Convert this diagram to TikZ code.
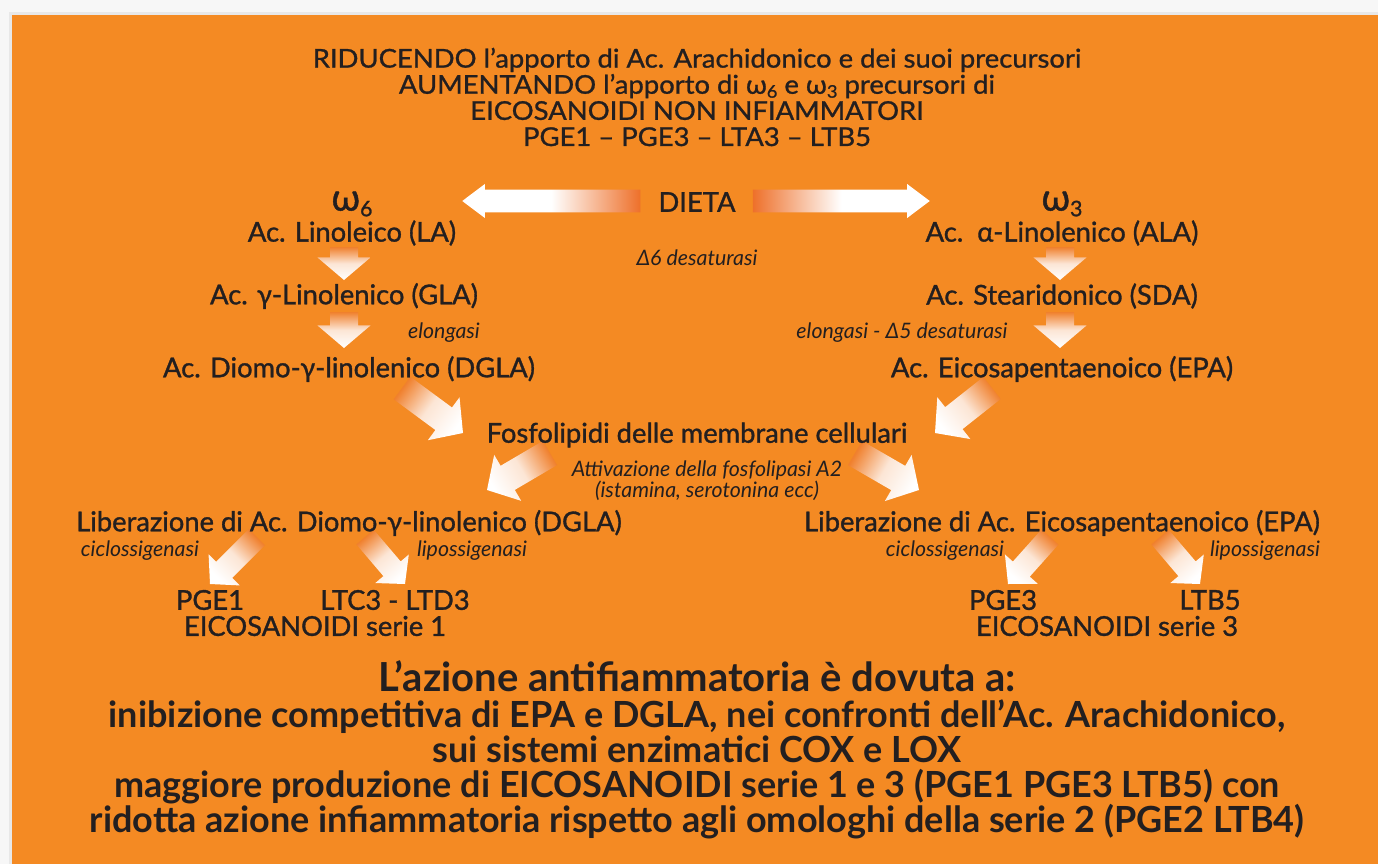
\documentclass[tikz,border=0pt]{standalone}
\usepackage{fontspec}
\setmainfont{Lato}
\newfontfamily\medfont{Lato}[FakeBold=1.2,Ligatures=TeX]
\newfontfamily\headfont{Lato}[FakeBold=1,FakeStretch=1.06,Ligatures=TeX]
\usetikzlibrary{calc,positioning}

\pgfdeclarelayer{bg}
\pgfdeclarelayer{arrows}
\pgfsetlayers{bg,arrows,main}

\definecolor{bgorange}{RGB}{244,138,35}
\definecolor{arrtop}{RGB}{240,128,45}
\definecolor{arrred}{RGB}{238,112,42}
\definecolor{ink}{RGB}{35,31,32}

\tikzset{
  txt/.style={font=\medfont\fontsize{20.5}{22}\selectfont, text=ink, inner sep=0pt},
  omega/.style={font=\medfont\fontsize{28}{28}\selectfont, text=ink, inner sep=0pt},
  note/.style={font=\itshape\fontsize{16}{15.5}\selectfont, text=ink, inner sep=0pt, align=center},
  head/.style={font=\headfont\fontsize{19.4}{19.6}\selectfont, text=ink, inner sep=0pt, align=center},
  concl/.style={font=\bfseries\fontsize{30}{30}\selectfont, text=ink, inner sep=0pt},
  conclines/.style={font=\bfseries\fontsize{27}{26.25}\selectfont, text=ink, inner sep=0pt, align=center},
  arrowfill/.style={top color=arrtop, bottom color=white, middle color=white!80!arrtop},
  dietafill/.style={top color=arrred, bottom color=white, middle color=white},
}

% fat shaded arrow: [fill] {tail}{tip}{shaft half}{head half}{head length}
\newcommand{\fatarrow}[6][arrowfill]{%
  \path (#2) coordinate (fa-t) (#3) coordinate (fa-h);
  \pgfmathanglebetweenpoints{\pgfpointanchor{fa-t}{center}}{\pgfpointanchor{fa-h}{center}}%
  \pgfmathsetmacro\faang{\pgfmathresult+90}%
  \path ($(fa-h)!#6!(fa-t)$) coordinate (fa-b);
  \shade[#1, shading angle=\faang]
    ($(fa-t)!#4!90:(fa-h)$) -- ($(fa-b)!#4!90:(fa-h)$) -- ($(fa-b)!#5!90:(fa-h)$) -- (fa-h)
    -- ($(fa-b)!#5!-90:(fa-h)$) -- ($(fa-b)!#4!-90:(fa-h)$) -- ($(fa-t)!#4!-90:(fa-h)$) -- cycle;
}

\begin{document}
\begin{tikzpicture}[x=0.75pt, y=-0.75pt]
  \useasboundingbox (0,0) rectangle (1378,864);
  \begin{pgfonlayer}{bg}
    \fill[gray!6] (0,0) rectangle (1378,864);
    \fill[gray!18] (9,12) rectangle (1378,864);
    \fill[bgorange] (12,15) rectangle (1378,864);
  \end{pgfonlayer}

  % header
  \node[head] (head) at (697,97) {RIDUCENDO l’apporto di Ac. Arachidonico e dei suoi precursori\\
    AUMENTANDO l’apporto di ω\raisebox{-0.3ex}{\fontsize{13}{13}\selectfont 6} e ω\raisebox{-0.3ex}{\fontsize{13}{13}\selectfont 3} precursori di\\
    EICOSANOIDI NON INFIAMMATORI\\
    PGE1 – PGE3 – LTA3 – LTB5};

  \node[txt] (dieta) at (697,202) {DIETA};
  \node[note] (d6) at (697,258) {Δ6 desaturasi};

  % omega 6 column
  \node[omega] (om6) at (352,204) {ω\raisebox{-0.3ex}{\fontsize{16}{16}\selectfont 6}};
  \node[txt] (la) at (352,233) {Ac. Linoleico (LA)};
  \node[txt] (gla) at (344,296) {Ac. γ-Linolenico (GLA)};
  \node[note] (elo) at (444,333) {elongasi};
  \node[txt] (dgla) at (349,369) {Ac. Diomo-γ-linolenico (DGLA)};

  % omega 3 column
  \node[omega] (om3) at (1062,204) {ω\raisebox{-0.3ex}{\fontsize{16}{16}\selectfont 3}};
  \node[txt] (ala) at (1062,233) {Ac.\ \ α-Linolenico (ALA)};
  \node[txt] (sda) at (1062,296) {Ac. Stearidonico (SDA)};
  \node[note] (elo5) at (902,333) {elongasi - Δ5 desaturasi};
  \node[txt] (epa) at (1062,369) {Ac. Eicosapentaenoico (EPA)};

  \node[txt] (fosfo) at (697,435) {Fosfolipidi delle membrane cellulari};
  \node[note] (pla2) at (707,481) {Attivazione della fosfolipasi A2\\(istamina, serotonina ecc)};

  % release, left
  \node[txt] (libd) at (349,523) {Liberazione di Ac. Diomo-γ-linolenico (DGLA)};
  \node[note] (cox1) at (140,551) {ciclossigenasi};
  \node[note] (lox1) at (472,551) {lipossigenasi};
  \node[txt] (pge1) at (210,600) {PGE1};
  \node[txt] (ltc3) at (395,600) {LTC3 - LTD3};
  \node[txt] (ser1) at (315,626) {EICOSANOIDI serie 1};

  % release, right
  \node[txt] (libe) at (1062,523) {Liberazione di Ac. Eicosapentaenoico (EPA)};
  \node[note] (cox3) at (945,551) {ciclossigenasi};
  \node[note] (lox3) at (1265,551) {lipossigenasi};
  \node[txt] (pge3) at (1003,600) {PGE3};
  \node[txt] (ltb5) at (1210,600) {LTB5};
  \node[txt] (ser3) at (1107,626) {EICOSANOIDI serie 3};

  % conclusion
  \node[concl] (azione) at (697,676) {L’azione antifiammatoria è dovuta a:};
  \node[conclines] (motivi) at (697,769) {inibizione competitiva di EPA e DGLA, nei confronti dell’Ac. Arachidonico,\\
    sui sistemi enzimatici COX e LOX\\
    maggiore produzione di EICOSANOIDI serie 1 e 3 (PGE1 PGE3 LTB5) con\\
    ridotta azione infiammatoria rispetto agli omologhi della serie 2 (PGE2 LTB4)};

  % arrows, under the text
  \begin{pgfonlayer}{arrows}
  \fatarrow[dietafill]{$(dieta.west)+(-18,-1)$}{$(dieta.west)+(-196,-1)$}{8.6pt}{12.8pt}{17pt}
  \fatarrow[dietafill]{$(dieta.east)+(17,-1)$}{$(dieta.east)+(194,-1)$}{8.6pt}{12.8pt}{17pt}

  \fatarrow{$(gla)+(0,-49)$}{$(gla)+(0,-16)$}{10.5pt}{20pt}{17pt}
  \fatarrow{$(gla)+(0,16)$}{$(gla)+(0,52)$}{10.5pt}{20pt}{17pt}
  \fatarrow{$(sda)+(-2,-49)$}{$(sda)+(-2,-16)$}{10.5pt}{20pt}{17pt}
  \fatarrow{$(sda)+(-2,16)$}{$(sda)+(-2,52)$}{10.5pt}{20pt}{17pt}

  \fatarrow{$(fosfo)+(-295,-47)$}{$(fosfo)+(-234,-2)$}{10.5pt}{20pt}{18pt}
  \fatarrow{$(fosfo)+(295,-47)$}{$(fosfo)+(238,-2)$}{10.5pt}{20pt}{18pt}
  \fatarrow{$(fosfo)+(-147,18)$}{$(fosfo)+(-210,55)$}{10.5pt}{20pt}{18pt}
  \fatarrow{$(fosfo)+(158,18)$}{$(fosfo)+(222,55)$}{10.5pt}{20pt}{18pt}

  \fatarrow{$(pge1)+(47,-63)$}{$(pge1)+(0,-16)$}{8.5pt}{16.5pt}{15pt}
  \fatarrow{$(ltc3)+(-30,-63)$}{$(ltc3)+(10,-16)$}{8.5pt}{16.5pt}{15pt}
  \fatarrow{$(pge3)+(47,-63)$}{$(pge3)+(5,-16)$}{8.5pt}{16.5pt}{15pt}
  \fatarrow{$(ltb5)+(-50,-63)$}{$(ltb5)+(-10,-16)$}{8.5pt}{16.5pt}{15pt}
  \end{pgfonlayer}
\end{tikzpicture}
\end{document}
